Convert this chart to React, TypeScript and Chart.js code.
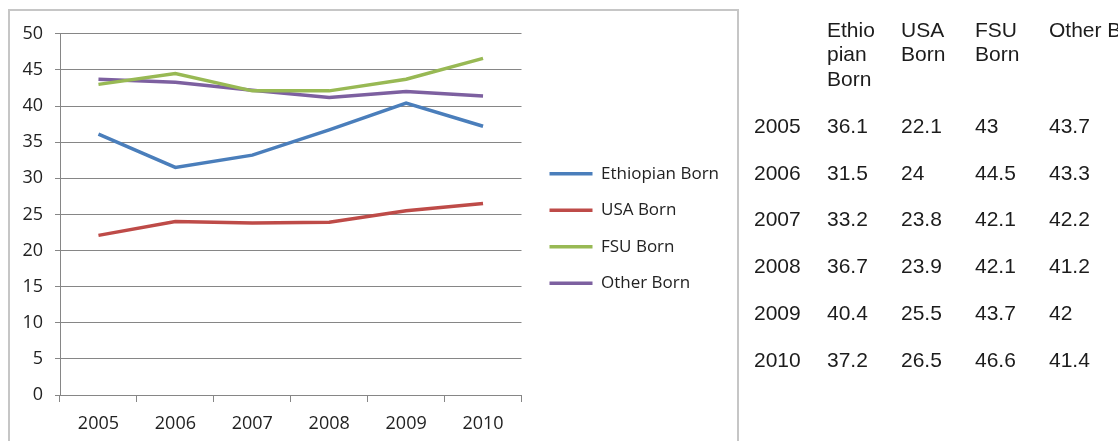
import React, { useEffect, useRef } from "react";
import { Chart, registerables } from "chart.js";

Chart.register(...registerables);

// Years on the category axis and in the table rows
const years = ["2005", "2006", "2007", "2008", "2009", "2010"];

// Series names (legend and table headers)
const seriesNames = ["Ethiopian Born", "USA Born", "FSU Born", "Other Born"];

// Values per series, one per year
const ethiopianBorn = [36.1, 31.5, 33.2, 36.7, 40.4, 37.2];
const usaBorn = [22.1, 24, 23.8, 23.9, 25.5, 26.5];
const fsuBorn = [43, 44.5, 42.1, 42.1, 43.7, 46.6];
const otherBorn = [43.7, 43.3, 42.2, 41.2, 42, 41.4];

// Y axis range
const yMin = 0;
const yMax = 50;
const yStep = 5;

const seriesValues = [ethiopianBorn, usaBorn, fsuBorn, otherBorn];
const seriesColors = ["#4A7EBB", "#BE4B48", "#98B954", "#7D60A0"];

const chartFont = "'Open Sans', sans-serif";
const tableFont = "'Liberation Sans', Arial, sans-serif";
const axisGray = "#868686";
const labelColor = "#222222";

// Nudges the legend block sideways / vertically after layout,
// keeping its clip box wide enough for the longest label
const legendOffset = {
  id: "legendOffset",
  afterLayout(chart: any) {
    const lg = chart.legend;
    if (!lg) return;
    const dx = 8.5;
    const dy = -7;
    lg.left += dx;
    lg.right = chart.width;
    lg.top += dy;
    lg.bottom += dy;
  },
};

function LineChart() {
  const canvasRef = useRef<HTMLCanvasElement | null>(null);

  useEffect(() => {
    if (!canvasRef.current) return;
    const chart = new Chart(canvasRef.current, {
      type: "line",
      data: {
        labels: years,
        datasets: seriesNames.map((name, i) => ({
          label: name,
          data: seriesValues[i],
          borderColor: seriesColors[i],
          backgroundColor: seriesColors[i],
          borderWidth: 3.5,
          pointRadius: 0,
          pointHoverRadius: 0,
          tension: 0,
          fill: false,
        })),
      },
      options: {
        animation: false,
        responsive: true,
        maintainAspectRatio: false,
        layout: { padding: { top: 19, right: 45, bottom: 0, left: 0 } },
        plugins: {
          tooltip: { enabled: false },
          legend: {
            position: "right",
            align: "center",
            labels: {
              usePointStyle: true,
              pointStyle: "line",
              pointStyleWidth: 43,
              padding: 19.5,
              color: labelColor,
              font: { family: chartFont, size: 17 },
            },
          },
        },
        scales: {
          x: {
            offset: true,
            grid: {
              offset: true,
              drawOnChartArea: false,
              drawTicks: true,
              tickLength: 7,
              color: axisGray,
            },
            border: { color: axisGray, width: 1 },
            ticks: {
              color: labelColor,
              padding: 11,
              font: { family: chartFont, size: 18 },
              maxRotation: 0,
            },
            afterFit: (scale: any) => {
              scale.height = 46;
            },
          },
          y: {
            min: yMin,
            max: yMax,
            ticks: {
              stepSize: yStep,
              color: labelColor,
              padding: 12,
              font: { family: chartFont, size: 18 },
            },
            grid: {
              color: axisGray,
              lineWidth: 1,
              tickLength: 5,
            },
            border: { color: axisGray, width: 1 },
            afterFit: (scale: any) => {
              scale.width = 50;
            },
          },
        },
      },
      plugins: [legendOffset],
    });
    return () => chart.destroy();
  }, []);

  return <canvas ref={canvasRef} />;
}

const rowTop = 114;
const rowStep = 46.7;
const rowLabelLeft = 754;
const columnLefts = [827, 901, 975, 1049];

export default function App() {
  return (
    <div
      style={{
        position: "fixed",
        left: 0,
        top: 0,
        width: 1118,
        height: 441,
        overflow: "hidden",
        background: "#ffffff",
      }}
    >
      <div
        style={{
          position: "absolute",
          left: 8,
          top: 9,
          width: 731,
          height: 460,
          boxSizing: "border-box",
          border: "2px solid #C6C6C6",
        }}
      />
      <div style={{ position: "absolute", left: 10, top: 11, width: 727, height: 430 }}>
        <LineChart />
      </div>

      {/* data table */}
      <div
        style={{
          position: "absolute",
          left: 0,
          top: 0,
          width: 1118,
          height: 441,
          fontFamily: tableFont,
          fontSize: 21,
          color: "#1c1c1c",
        }}
      >
        {seriesNames.map((name, c) => (
          <div
            key={name}
            style={{
              position: "absolute",
              left: columnLefts[c],
              top: 17.5,
              width: c === seriesNames.length - 1 ? undefined : 54,
              lineHeight: "24.5px",
              whiteSpace: c === seriesNames.length - 1 ? "nowrap" : "normal",
              overflowWrap: "anywhere",
            }}
          >
            {name}
          </div>
        ))}
        {years.map((year, r) => (
          <React.Fragment key={year}>
            <div
              style={{
                position: "absolute",
                left: rowLabelLeft,
                top: rowTop + r * rowStep,
                lineHeight: "24px",
                whiteSpace: "nowrap",
              }}
            >
              {year}
            </div>
            {seriesValues.map((vals, c) => (
              <div
                key={c}
                style={{
                  position: "absolute",
                  left: columnLefts[c],
                  top: rowTop + r * rowStep,
                  lineHeight: "24px",
                  whiteSpace: "nowrap",
                }}
              >
                {String(vals[r])}
              </div>
            ))}
          </React.Fragment>
        ))}
      </div>
    </div>
  );
}
